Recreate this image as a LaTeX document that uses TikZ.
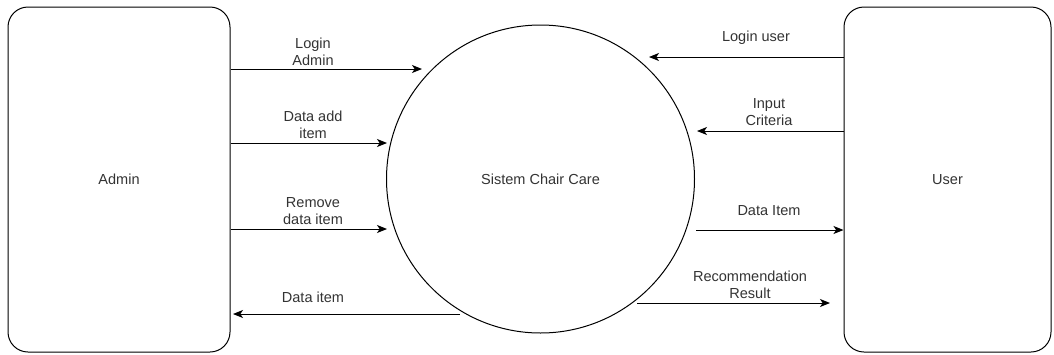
\documentclass[tikz,border=0pt]{standalone}
\usepackage{fontspec}
\setmainfont{Liberation Sans}
\usetikzlibrary{arrows.meta}
\begin{document}
\begin{tikzpicture}[x=0.75pt, y=-0.75pt, font=\fontsize{10.9}{12.75}\selectfont, text=black!80,
    entity/.style={draw, line width=0.75pt, rounded corners=15pt, minimum height=258.75pt},
    flow/.style={-{Stealth[length=7.5pt,width=6pt,inset=2pt]}, line width=0.75pt},
    lbl/.style={align=center, inner sep=0pt}]
    \useasboundingbox (0,0) rectangle (1054,354);
    \node[entity, minimum width=166.5pt] (admin) at (119,179.5) {Admin};
    \node[entity, minimum width=155.25pt] (user) at (947.5,179.5) {User};
    \node[draw, circle, line width=0.75pt, minimum size=231pt, inner sep=0pt] (sys) at (540.5,179) {Sistem Chair Care};
    \coordinate (loginA) at (422,69);
    \coordinate (addA) at (387,143);
    \coordinate (remA) at (387,229);
    \coordinate (itemS) at (460,314);
    \coordinate (itemA) at (233,314);
    \coordinate (loginU) at (649,57);
    \coordinate (critU) at (697,131);
    \coordinate (itemU) at (696,230);
    \coordinate (recS) at (637,303);
    \coordinate (recU) at (830,303);
    \draw[flow] (admin.east |- loginA) -- (loginA);
    \draw[flow] (admin.east |- addA) -- (addA);
    \draw[flow] (admin.east |- remA) -- (remA);
    \draw[flow] (itemS) -- (itemA);
    \draw[flow] (user.west |- loginU) -- (loginU);
    \draw[flow] (user.west |- critU) -- (critU);
    \draw[flow] (itemU) -- (user.west |- itemU);
    \draw[flow] (recS) -- (recU);
    \node[lbl] (tLoginA) at (313,51.5) {Login\\Admin};
    \node[lbl] (tAddA) at (313,125) {Data add\\item};
    \node[lbl] (tRemA) at (313,211) {Remove\\data item};
    \node[lbl] (tItemA) at (313,297) {Data item};
    \node[lbl] (tLoginU) at (756,38) {Login user};
    \node[lbl] (tCritU) at (769,112.5) {Input\\Criteria};
    \node[lbl] (tItemU) at (769,211) {Data Item};
    \node[lbl] (tRecU) at (750,284.5) {Recommendation\\Result};
\end{tikzpicture}
\end{document}
